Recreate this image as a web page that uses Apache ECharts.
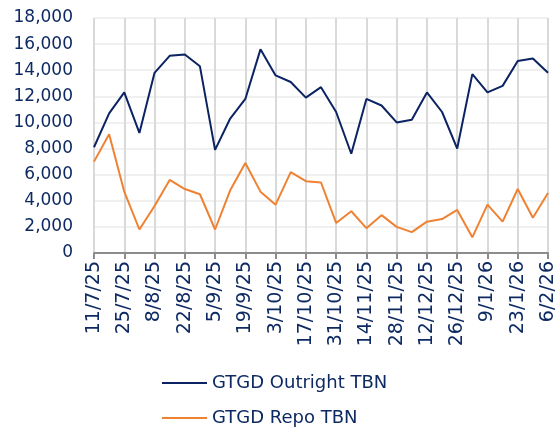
<!DOCTYPE html>
<html>
<head>
<meta charset="utf-8">
<script src="https://cdn.jsdelivr.net/npm/echarts@6/dist/echarts.min.js"></script>
<style>
  html, body { margin: 0; padding: 0; background: #fff; }
  #chart { width: 559px; height: 429px; }
</style>
</head>
<body>
<div id="chart"></div>
<script>
  // weekly dates, 11/7/25 .. 6/2/26
  var dates = [
    '11/7/25', '18/7/25', '25/7/25', '1/8/25', '8/8/25', '15/8/25', '22/8/25', '29/8/25',
    '5/9/25', '12/9/25', '19/9/25', '26/9/25', '3/10/25', '10/10/25', '17/10/25', '24/10/25',
    '31/10/25', '7/11/25', '14/11/25', '21/11/25', '28/11/25', '5/12/25', '12/12/25', '19/12/25',
    '26/12/25', '2/1/26', '9/1/26', '16/1/26', '23/1/26', '30/1/26', '6/2/26'
  ]
  var outright = [
    8100, 10700, 12300, 9200, 13800, 15100, 15200, 14300,
    7900, 10300, 11800, 15600, 13600, 13100, 11900, 12700,
    10800, 7600, 11800, 11300, 10000, 10200, 12300, 10800,
    8000, 13700, 12300, 12800, 14700, 14900, 13800
  ]
  var repo = [
    7000, 9100, 4700, 1800, 3600, 5600, 4900, 4500,
    1800, 4800, 6900, 4700, 3700, 6200, 5500, 5400,
    2300, 3200, 1900, 2900, 2000, 1600, 2400, 2600,
    3300, 1200, 3700, 2400, 4900, 2700, 4600
  ]
  var seriesNames = ['GTGD Outright TBN', 'GTGD Repo TBN']

  var navy = '#0b2363'
  var orange = '#ef8232'
  var textColor = '#0e2a62'
  var font = 'DejaVu Sans'

  function makeLegend(name, top) {
    return {
      left: 162,
      top: top,
      padding: 0,
      icon: 'rect',
      itemWidth: 45,
      itemHeight: 2,
      itemGap: 0,
      textStyle: { color: textColor, fontSize: 18, fontFamily: font },
      data: [name]
    }
  }

  var chart = echarts.init(document.getElementById('chart'))
  chart.setOption({
    animation: false,
    textStyle: { fontFamily: font },
    grid: { left: 94, right: 11, top: 18, bottom: 176, containLabel: false },
    legend: [makeLegend(seriesNames[0], 374), makeLegend(seriesNames[1], 409)],
    xAxis: {
      type: 'category',
      data: dates,
      boundaryGap: false,
      axisLine: { lineStyle: { color: '#8c8c8c', width: 2 } },
      axisTick: { interval: 1, length: 6, lineStyle: { color: '#8c8c8c', width: 2 } },
      axisLabel: { interval: 1, rotate: 90, color: textColor, fontSize: 19, fontFamily: font, margin: 8 },
      splitLine: { show: true, interval: 1, lineStyle: { color: '#d9d9d9', width: 2 } }
    },
    yAxis: {
      type: 'value',
      min: 0,
      max: 18000,
      interval: 2000,
      axisLine: { show: false },
      axisTick: { show: false },
      axisLabel: {
        color: textColor, fontSize: 17, fontFamily: font, margin: 21,
        formatter: function(v) { return v.toLocaleString('en-US') }
      },
      splitLine: { lineStyle: { color: '#f0f0f0', width: 2 } }
    },
    series: [
      {
        name: seriesNames[0],
        type: 'line',
        data: outright,
        showSymbol: false,
        color: navy,
        lineStyle: { color: navy, width: 2 }
      },
      {
        name: seriesNames[1],
        type: 'line',
        data: repo,
        showSymbol: false,
        color: orange,
        lineStyle: { color: orange, width: 2 }
      }
    ]
  })
</script>
</body>
</html>
